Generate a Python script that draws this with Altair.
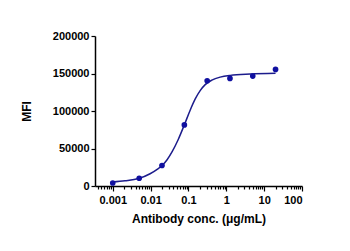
import altair as alt
import pandas as pd

# measured points
conc = [0.001, 0.005, 0.02, 0.078, 0.3125, 1.25, 5, 20]
mfi = [4000, 10300, 27300, 81500, 140300, 143500, 146600, 155500]

# fitted curve
fit_conc = [0.001, 0.0021, 0.0048, 0.0097, 0.0149, 0.0205, 0.0273, 0.0371, 0.0534,
            0.0784, 0.111, 0.150, 0.204, 0.277, 0.416, 0.690, 1.27, 4.29, 20]
fit_mfi = [5300, 6900, 9900, 16300, 22300, 27700, 35000, 45700, 61700,
           81800, 101100, 115800, 127200, 135200, 141200, 145200, 147500, 149200, 150200]

major_ticks = [0.001, 0.01, 0.1, 1, 10, 100]
minor_ticks = [m * 10.0 ** e for e in range(-4, 2) for m in range(2, 10)]
x_ticks = [v for v in sorted(major_ticks + minor_ticks) if v >= 0.00034]
y_ticks = [0, 50000, 100000, 150000, 200000]

pts = pd.DataFrame({"conc": conc, "mfi": mfi})
fit = pd.DataFrame({"conc": fit_conc, "mfi": fit_mfi})

is_major = "abs(log(datum.value)/LN10 - round(log(datum.value)/LN10)) < 0.000001"

x_scale = alt.Scale(type="log", domain=[0.00034, 100], nice=False)
y_scale = alt.Scale(domain=[0, 200000], nice=False)

x_axis = alt.Axis(
    values=x_ticks,
    title="Antibody conc. (μg/mL)",
    labelExpr=f"({is_major}) ? format(datum.value, '.3~f') : ''",
    labelOverlap=False,
    tickSize={"condition": {"test": is_major, "value": 5}, "value": 3},
    grid=False,
    labelPadding=3,
    titlePadding=8,
)
y_axis = alt.Axis(values=y_ticks, title="MFI", format="d", grid=False, tickSize=4,
                  labelOverlap=False, labelPadding=2, titlePadding=19)

line = alt.Chart(fit).mark_line(color="#1c1c8c", strokeWidth=1.5, interpolate="monotone").encode(
    x=alt.X("conc:Q", scale=x_scale, axis=x_axis),
    y=alt.Y("mfi:Q", scale=y_scale, axis=y_axis),
)
dots = alt.Chart(pts).mark_point(filled=True, shape="circle", size=32, color="#1010a0", opacity=1).encode(
    x=alt.X("conc:Q", scale=x_scale, axis=x_axis),
    y=alt.Y("mfi:Q", scale=y_scale, axis=y_axis),
)

chart = (line + dots).properties(
    width=207, height=150,
    autosize=alt.AutoSizeParams(type="none"),
    padding={"left": 95, "top": 36, "right": 48, "bottom": 65},
).configure_view(stroke=None).configure_axis(
    domainColor="black", domainWidth=1.5, tickColor="black", tickWidth=1.2,
    labelFont="Liberation Sans", labelFontWeight="bold", labelFontSize=11, labelColor="black",
    titleFont="Liberation Sans", titleFontWeight="bold", titleFontSize=12, titleColor="black",
)

chart.save("out.html", embed_options={"renderer": "svg", "actions": False})
